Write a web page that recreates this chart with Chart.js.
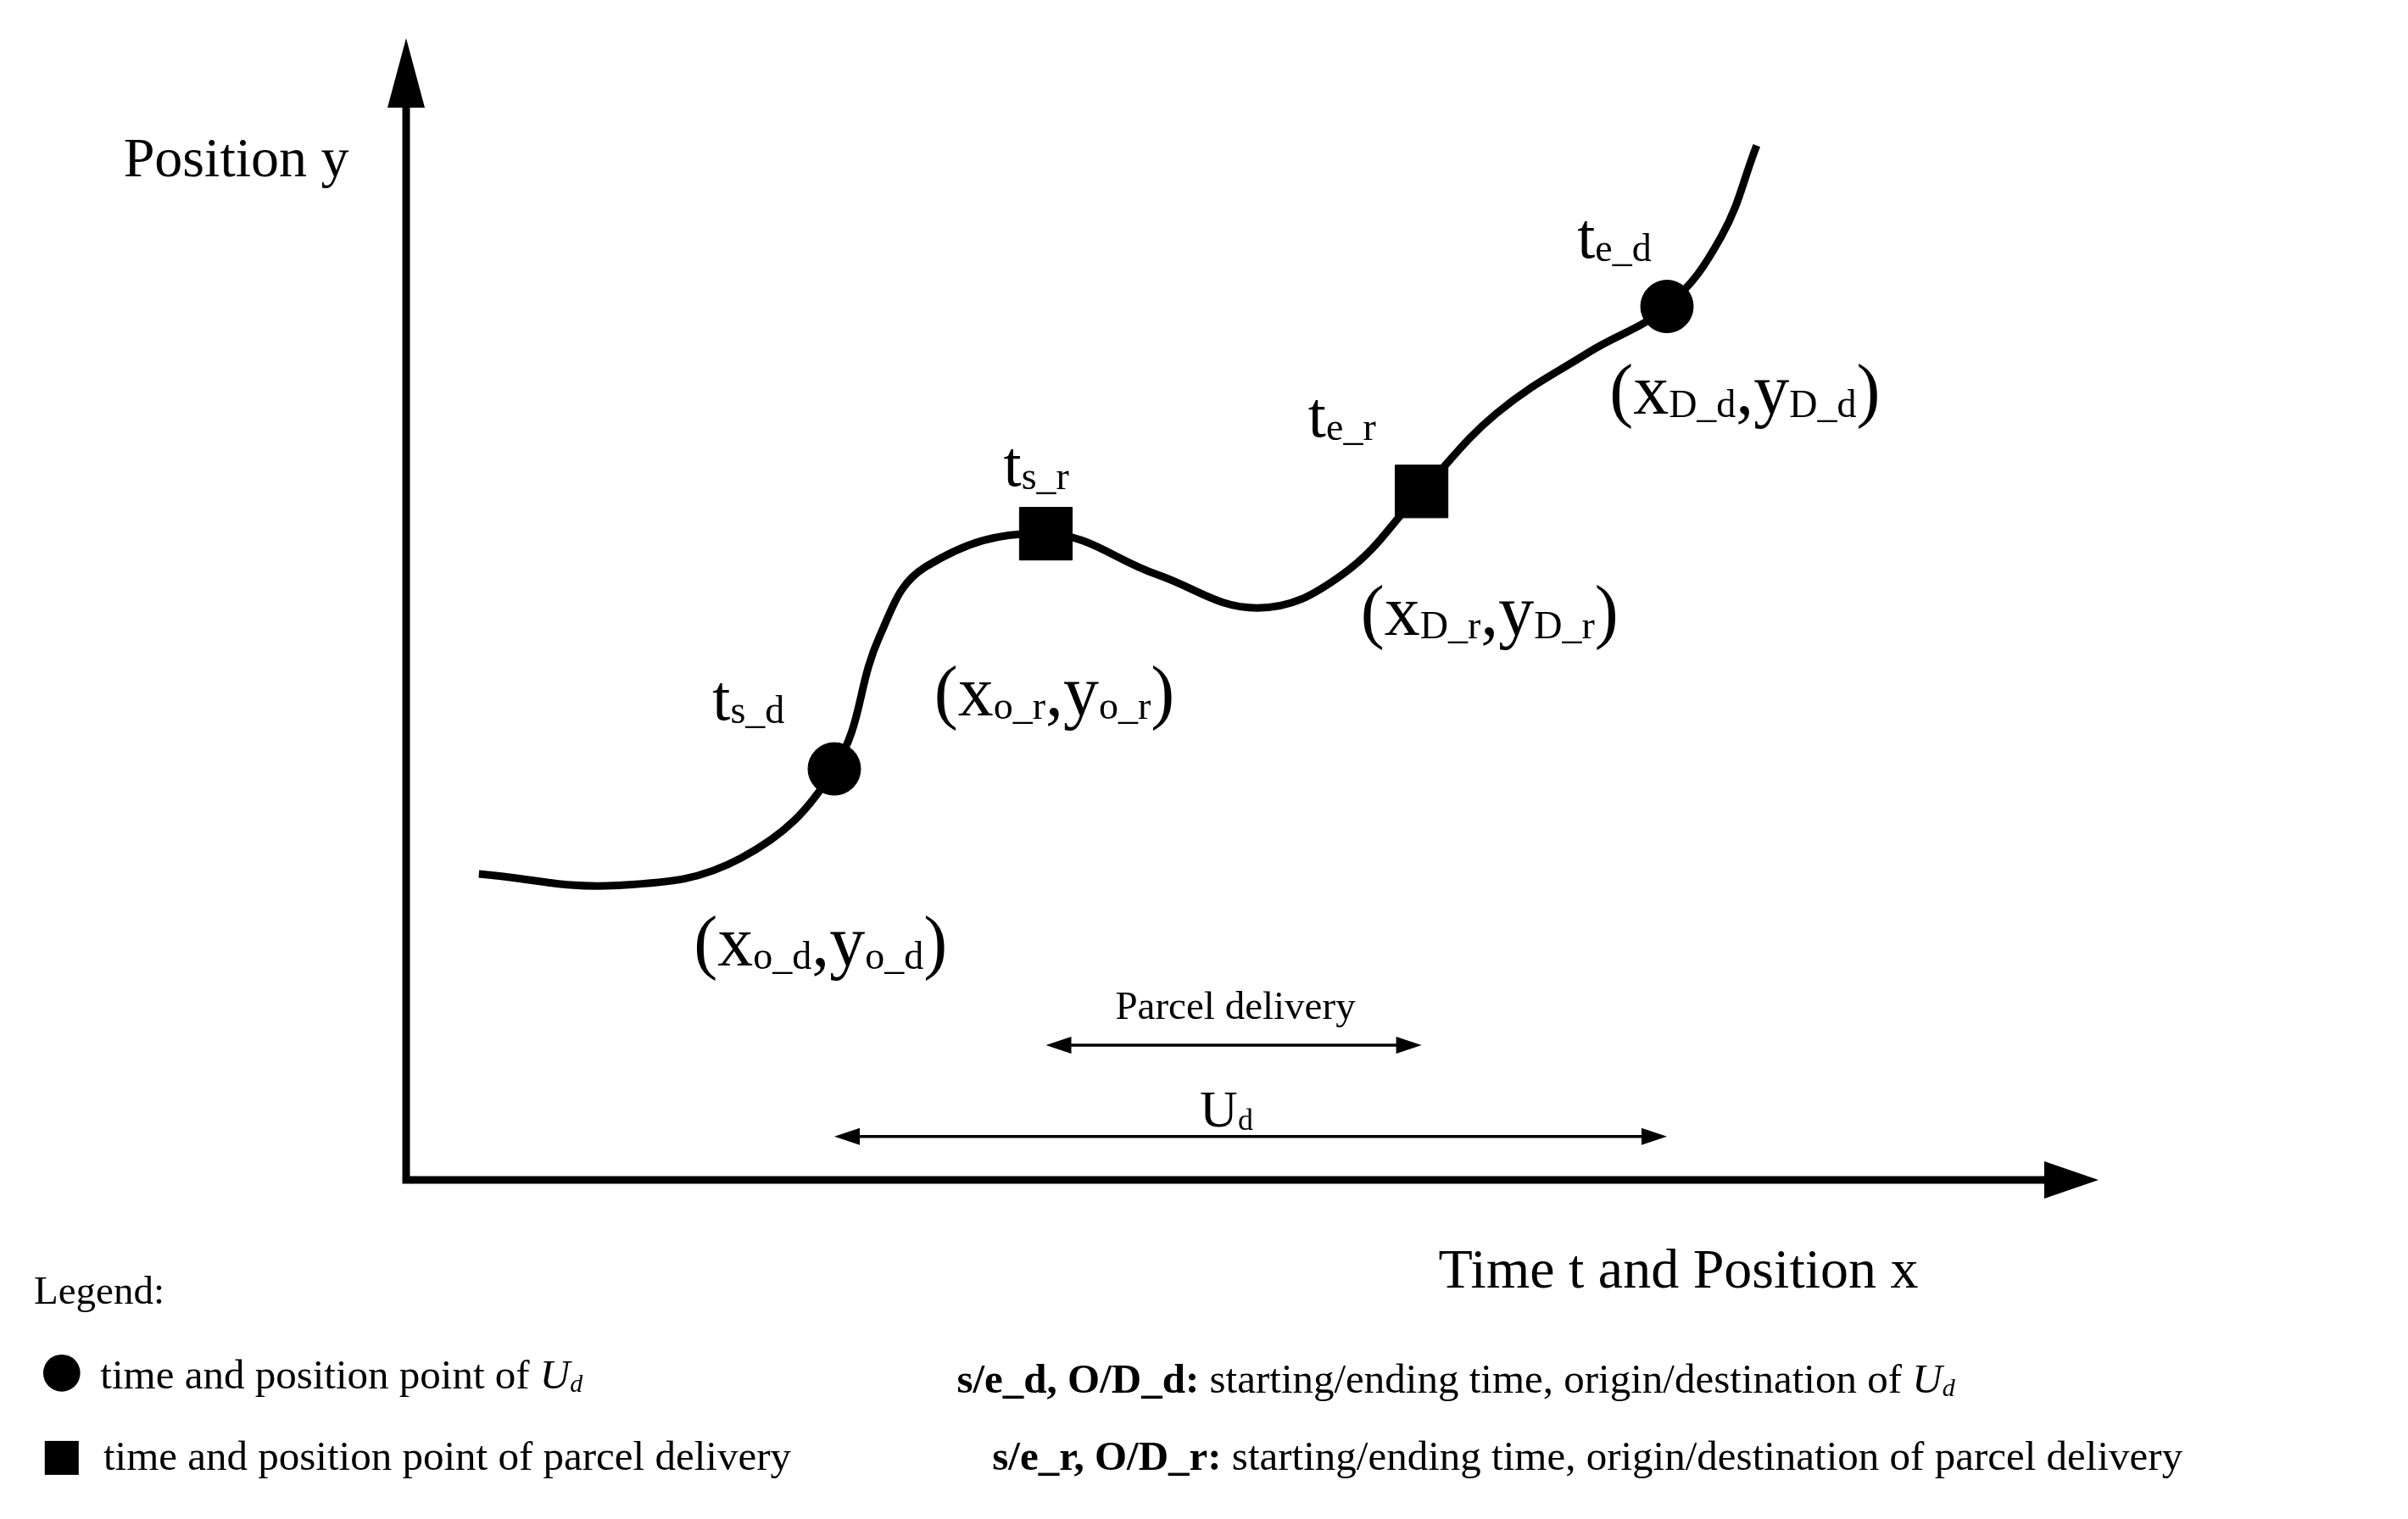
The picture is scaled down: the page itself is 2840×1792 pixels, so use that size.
<!DOCTYPE html>
<html>
<head>
<meta charset="utf-8">
<script src="https://cdn.jsdelivr.net/npm/chart.js@4"></script>
<style>html,body{margin:0;background:#fff}</style>
</head>
<body>
<canvas id="c" width="2840" height="1792"></canvas>
<script>
// Trajectory curve (time/position units, 0..100)
const curveX = [4.3, 12.5, 19.8, 25.3, 28.0, 30.7, 37.8, 44.4, 50.3, 55.3, 60.0, 64.4, 69.9, 74.5, 77.7, 79.8];
const curveY = [26.8, 25.8, 28.2, 36.0, 47.7, 53.7, 56.6, 53.0, 50.1, 53.0, 60.3, 67.1, 72.5, 76.5, 82.6, 90.6];
// Event points: s_d, s_r, e_r, e_d
const markX = [25.3, 37.8, 60.0, 74.5];
const markY = [36.0, 56.6, 60.3, 76.5];
const markStyle = ['circle', 'rect', 'rect', 'circle'];
// Dimension arrows
const parcelSpan = [37.8, 60.0], parcelLevel = 11.8;
const udSpan = [25.3, 74.5], udLevel = 3.8;

const SERIF = '"Liberation Serif", "DejaVu Serif", serif';
const BIG = 84, T = 76, SUB = 46;
// label anchors in data units, segments: [text, size, kind]
const labels = [
  {x: 18.1, y: 40.3, seg: [['t', T], ['s_d', SUB]]},
  {x: 35.3, y: 60.8, seg: [['t', T], ['s_r', SUB]]},
  {x: 53.3, y: 65.1, seg: [['t', T], ['e_r', SUB]]},
  {x: 69.2, y: 80.8, seg: [['t', T], ['e_d', SUB]]},
  {x: 17.0, y: 18.8, seg: [['(x', BIG], ['o_d', SUB], [',y', BIG], ['o_d', SUB], [')', BIG]]},
  {x: 31.2, y: 40.7, seg: [['(x', BIG], ['o_r', SUB], [',y', BIG], ['o_r', SUB], [')', BIG]]},
  {x: 56.4, y: 47.7, seg: [['(x', BIG], ['D_r', SUB], [',y', BIG], ['D_r', SUB], [')', BIG]]},
  {x: 71.1, y: 67.1, seg: [['(x', BIG], ['D_d', SUB], [',y', BIG], ['D_d', SUB], [')', BIG]]},
  {x: 46.9, y: 4.7, seg: [['U', 62], ['d', 36]]},
  {x: -16.7, y: 87.9, seg: [['Position y', 66]]},
  {x: 61.0, y: -9.4, seg: [['Time t and Position x', 66]]}
];

function drawRich(ctx, x, y, seg, align) {
  let w = 0;
  seg.forEach(s => { ctx.font = (s[2] || '') + ' ' + s[1] + 'px ' + SERIF; w += ctx.measureText(s[0]).width; });
  if (align === 'center') x -= w / 2;
  seg.forEach(s => {
    ctx.font = (s[2] || '') + ' ' + s[1] + 'px ' + SERIF;
    ctx.fillText(s[0], x, y + (s[1] < 50 && seg.length > 1 && s[1] !== seg[0][1] ? 4 : 0));
    x += ctx.measureText(s[0]).width;
  });
}

function arrowHead(ctx, x, y, dx, dy, len, half) {
  const px = -dy, py = dx;
  ctx.beginPath();
  ctx.moveTo(x, y);
  ctx.lineTo(x - dx * len + px * half, y - dy * len + py * half);
  ctx.lineTo(x - dx * len - px * half, y - dy * len - py * half);
  ctx.closePath();
  ctx.fill();
}

const deco = {
  id: 'deco',
  afterDatasetsDraw(chart) {
    const ctx = chart.ctx, sx = chart.scales.x, sy = chart.scales.y;
    const X = v => sx.getPixelForValue(v), Y = v => sy.getPixelForValue(v);
    ctx.save();
    ctx.fillStyle = '#000'; ctx.strokeStyle = '#000';
    // axes
    ctx.lineWidth = 9;
    ctx.beginPath();
    ctx.moveTo(X(0), Y(100) + 60); ctx.lineTo(X(0), Y(0));
    ctx.lineTo(X(100) - 50, Y(0));
    ctx.stroke();
    arrowHead(ctx, X(0), Y(100), 0, -1, 82, 22);
    arrowHead(ctx, X(100), Y(0), 1, 0, 64, 22);
    // dimension arrows
    ctx.lineWidth = 3.5;
    [[parcelSpan, parcelLevel], [udSpan, udLevel]].forEach(([sp, lv]) => {
      const a = X(sp[0]), b = X(sp[1]), yy = Y(lv);
      ctx.beginPath(); ctx.moveTo(a + 20, yy); ctx.lineTo(b - 20, yy); ctx.stroke();
      arrowHead(ctx, a, yy, -1, 0, 30, 10);
      arrowHead(ctx, b, yy, 1, 0, 30, 10);
    });
    // text
    ctx.textBaseline = 'alphabetic';
    labels.forEach(l => drawRich(ctx, X(l.x), Y(l.y), l.seg));
    ctx.font = '47px ' + SERIF;
    ctx.textAlign = 'center';
    ctx.fillText('Parcel delivery', X(49.0), Y(14.1));
    ctx.textAlign = 'left';
    // legend block (below the plot)
    const k = 1.82;
    ctx.font = '47px ' + SERIF;
    ctx.fillText('Legend:', 22 * k, 845 * k);
    ctx.beginPath(); ctx.arc(40 * k, 890 * k, 12 * k, 0, Math.PI * 2); ctx.fill();
    ctx.fillRect(29 * k, 934 * k, 22 * k, 22 * k);
    drawRich(ctx, 65 * k, 900 * k, [['time and position point of ', 49], ['U', 49, 'italic'], ['d', 30, 'italic']]);
    drawRich(ctx, 67 * k, 953 * k, [['time and position point of parcel delivery', 49]]);
    drawRich(ctx, 620 * k, 903 * k, [['s/e_d, O/D_d:', 49, 'bold'], [' starting/ending time, origin/destination of ', 49], ['U', 49, 'italic'], ['d', 30, 'italic']]);
    drawRich(ctx, 643 * k, 953 * k, [['s/e_r, O/D_r:', 49, 'bold'], [' starting/ending time, origin/destination of parcel delivery', 49]]);
    ctx.restore();
  }
};

const guides = markX.map((x, i) => ({
  data: [{x: x, y: markY[i]}, {x: x, y: 0}],
  borderColor: '#9a9a9a', borderWidth: 2.5,
  borderDash: markStyle[i] === 'circle' ? [18, 10] : [4, 5],
  pointRadius: 0, order: 3
}));

new Chart(document.getElementById('c'), {
  type: 'scatter',
  data: {
    datasets: [
      {data: curveX.map((x, i) => ({x: x, y: curveY[i]})), showLine: true, tension: 0.4,
        borderColor: '#000', borderWidth: 9, pointRadius: 0, order: 2},
      {data: markX.map((x, i) => ({x: x, y: markY[i]})), showLine: false,
        pointStyle: markStyle, pointRadius: [31, 44, 44, 31],
        backgroundColor: '#000', borderColor: '#000', order: 1},
      ...guides
    ]
  },
  options: {
    responsive: false, animation: false, devicePixelRatio: 1,
    layout: {padding: {left: 479, right: 365, top: 36, bottom: 400}},
    scales: {
      x: {type: 'linear', min: 0, max: 100, display: false},
      y: {type: 'linear', min: 0, max: 100, display: false}
    },
    plugins: {legend: {display: false}, tooltip: {enabled: false}},
    elements: {line: {capBezierPoints: true}}
  },
  plugins: [deco]
});
</script>
</body>
</html>
